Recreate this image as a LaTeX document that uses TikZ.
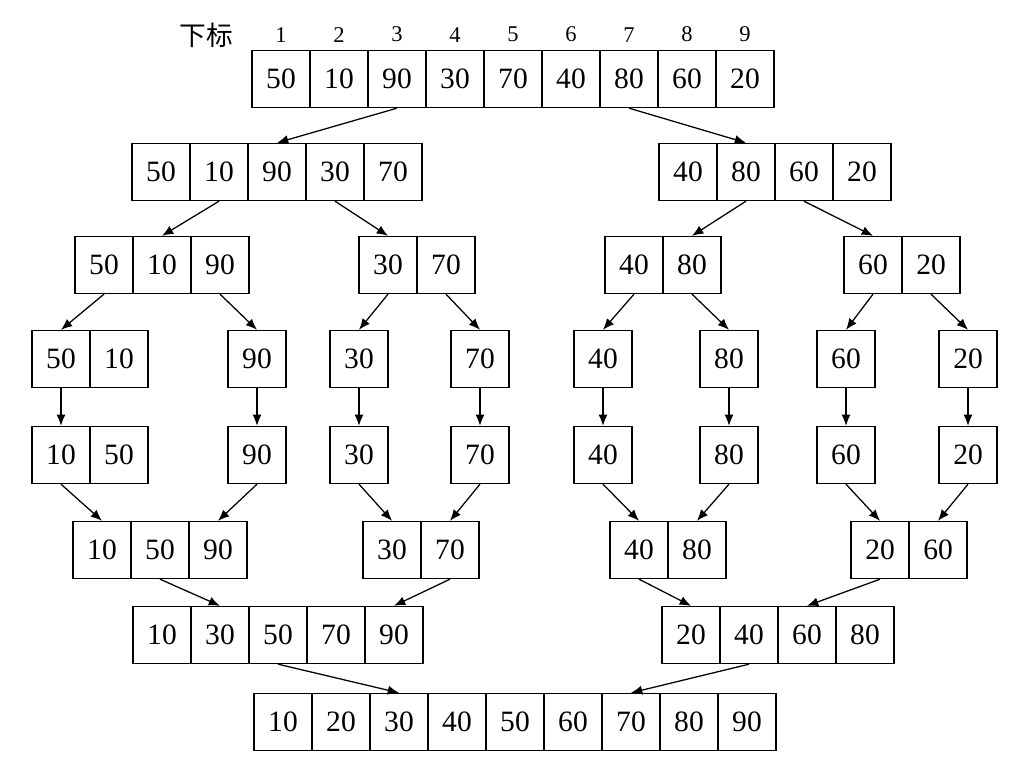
\documentclass[tikz,border=0pt]{standalone}
\usepackage{fontspec}
\setmainfont{Liberation Serif}
\newfontfamily\cjk{Noto Sans CJK SC}
\usetikzlibrary{arrows.meta,positioning}

\begin{document}
\begin{tikzpicture}[x=0.025cm,y=-0.025cm,
  cell/.style={draw,line width=1.1pt,minimum width=1.45cm,minimum height=1.42cm,inner sep=0pt,font=\fontsize{21}{24}\selectfont},
  idx/.style={font=\fontsize{16}{18}\selectfont},
  link/.style={-{Latex[length=8pt,width=6.5pt]},line width=0.9pt}]
\useasboundingbox (0,0) rectangle (1017,766);
% the arrays, row by row: name/left/centre/values
\foreach \nm/\x/\y/\vals in {r1a/252/79/{50,10,90,30,70,40,80,60,20},
  r2a/132/172/{50,10,90,30,70}, r2b/659/172/{40,80,60,20},
  r3a/75/265/{50,10,90}, r3b/359/265/{30,70}, r3c/605/265/{40,80}, r3d/844/265/{60,20},
  r4a/32/359/{50,10}, r4b/228/359/{90}, r4c/330/359/{30}, r4d/451/359/{70},
  r4e/574/359/{40}, r4f/700/359/{80}, r4g/817/359/{60}, r4h/939/359/{20},
  r5a/32/455/{10,50}, r5b/228/455/{90}, r5c/330/455/{30}, r5d/451/455/{70},
  r5e/574/455/{40}, r5f/700/455/{80}, r5g/817/455/{60}, r5h/939/455/{20},
  r6a/73/550/{10,50,90}, r6b/363/550/{30,70}, r6c/610/550/{40,80}, r6d/851/550/{20,60},
  r7a/133/635/{10,30,50,70,90}, r7b/662/635/{20,40,60,80},
  r8a/254/722/{10,20,30,40,50,60,70,80,90}}
  \foreach \val [count=\i] in \vals
    \node[cell] (\nm-\i) at ({\x+58*\i-29},\y) {\val};
% indices
\foreach \i in {1,...,9}
  \node[idx,above=2pt of r1a-\i] (n\i) {\i};
\node[font=\cjk\fontsize{19}{22}\selectfont] (lbl) at (206,35) {下标};
% split
\draw[link] (r1a-3.south) -- (r2a-3.north);
\draw[link] (r1a-7.south) -- (r2b-2.north);
\draw[link] (r2a-2.south) -- (r3a-2.north);
\draw[link] (r2a-4.south) -- (r3b-1.north);
\draw[link] (r2b-2.south) -- (r3c-2.north);
\draw[link] (r2b-3.south) -- (r3d-1.north);
\draw[link] (r3a-1.south) -- (r4a-1.north);
\draw[link] (r3a-3.south) -- (r4b-1.north);
\draw[link] (r3b-1.south) -- (r4c-1.north);
\draw[link] (r3b-2.south) -- (r4d-1.north);
\draw[link] (r3c-1.south) -- (r4e-1.north);
\draw[link] (r3c-2.south) -- (r4f-1.north);
\draw[link] (r3d-1.south) -- (r4g-1.north);
\draw[link] (r3d-2.south) -- (r4h-1.north);
% sort pairs
\foreach \k in {a,b,c,d,e,f,g,h}
  \draw[link] (r4\k-1.south) -- (r5\k-1.north);
% merge
\draw[link] (r5a-1.south) -- (r6a-1.north);
\draw[link] (r5b-1.south) -- (r6a-3.north);
\draw[link] (r5c-1.south) -- (r6b-1.north);
\draw[link] (r5d-1.south) -- (r6b-2.north);
\draw[link] (r5e-1.south) -- (r6c-1.north);
\draw[link] (r5f-1.south) -- (r6c-2.north);
\draw[link] (r5g-1.south) -- (r6d-1.north);
\draw[link] (r5h-1.south) -- (r6d-2.north);
\draw[link] (r6a-2.south) -- (r7a-2.north);
\draw[link] (r6b-2.south) -- (r7a-5.north);
\draw[link] (r6c-1.south) -- (r7b-1.north);
\draw[link] (r6d-1.south) -- (r7b-3.north);
\draw[link] (r7a-3.south) -- (r8a-3.north);
\draw[link] (r7b-2.south) -- (r8a-7.north);
\end{tikzpicture}
\end{document}
